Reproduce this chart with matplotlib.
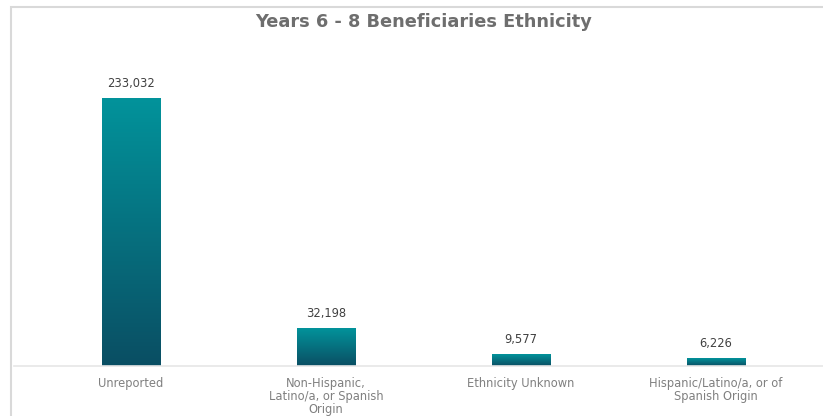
import numpy as np
import matplotlib.pyplot as plt
from matplotlib.colors import LinearSegmentedColormap
from matplotlib.patches import Rectangle

# data
categories = ["Unreported", "Non-Hispanic,\nLatino/a, or Spanish\nOrigin",
              "Ethnicity Unknown", "Hispanic/Latino/a, or of\nSpanish Origin"]
values = [233032, 32198, 9577, 6226]

fig = plt.figure(figsize=(8.23, 4.16), dpi=100)

# outer light border (right/bottom run past the image edge)
fig.patches.append(Rectangle((11 / 823, -0.1), 1.2, 1.1 - 7 / 416,
                             transform=fig.transFigure, fill=False,
                             edgecolor="#D9D9D9", linewidth=1.5))

ax = fig.add_axes([14 / 823, 50 / 416, 809 / 823, 300 / 416])

cmap = LinearSegmentedColormap.from_list("teal", ["#0A4E63", "#02939B"])
grad = np.linspace(0, 1, 256).reshape(-1, 1)
width = 0.30

for i, v in enumerate(values):
    ax.imshow(grad, extent=(i - width / 2, i + width / 2, 0, v), origin="lower",
              cmap=cmap, aspect="auto", zorder=2)
    ax.annotate(f"{v:,}", (i, v), xytext=(0, 15), textcoords="offset pixels",
                ha="center", va="center", fontsize=8.3, color="#404040")

# 268 px of axis height for the tallest bar
ax.set_xlim(-0.6, -0.6 + 809 / 195)
ax.set_ylim(0, 233032 * 300 / 268)
ax.set_xticks(range(len(categories)))
ax.set_xticklabels(categories, fontsize=8.3, color="#808080", linespacing=1.0)
ax.tick_params(axis="x", length=0, pad=8)
ax.set_yticks([])
for s in ["top", "right", "left"]:
    ax.spines[s].set_visible(False)
ax.spines["bottom"].set_color("#E6E6E6")
ax.spines["bottom"].set_linewidth(1.2)

fig.text(424 / 823, 1 - 22 / 416, "Years 6 - 8 Beneficiaries Ethnicity",
         ha="center", va="center", fontsize=12.8, fontweight="bold", color="#6E6E6E")

fig.savefig("out.png", dpi=100)
